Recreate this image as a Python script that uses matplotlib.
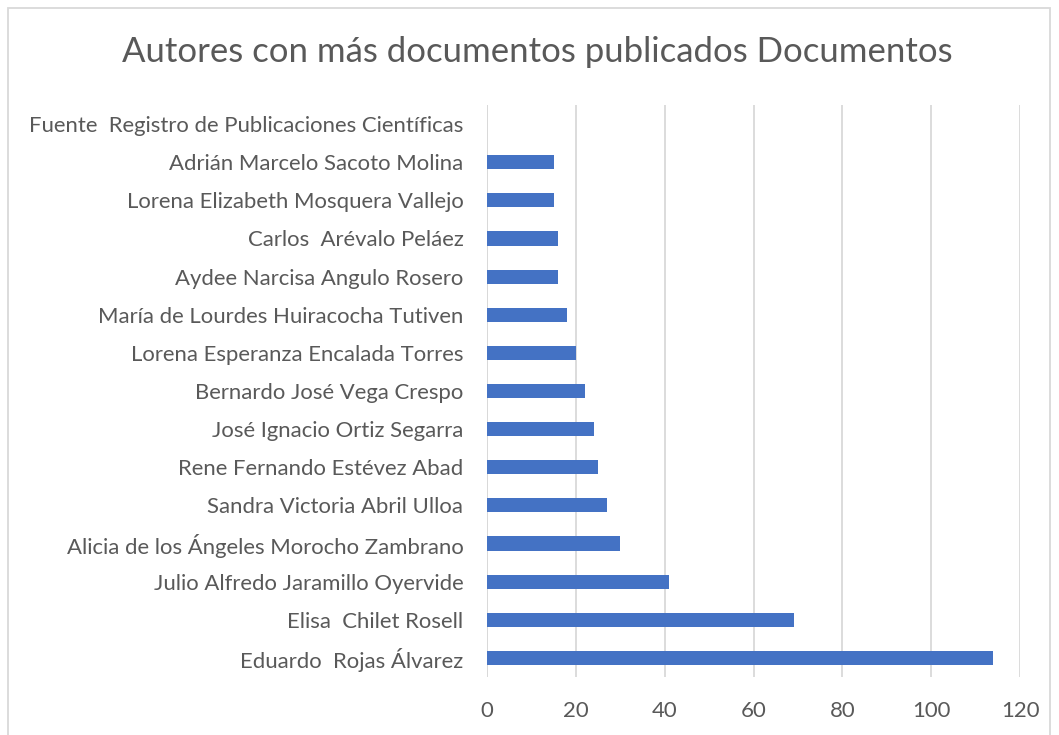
import matplotlib
matplotlib.use('Agg')
import matplotlib.pyplot as plt
from matplotlib.patches import Rectangle

plt.rcParams['font.family'] = ['Lato', 'DejaVu Sans']

autores = ['Eduardo  Rojas Álvarez', 'Elisa  Chilet Rosell', 'Julio Alfredo Jaramillo Oyervide',
           'Alicia de los Ángeles Morocho Zambrano', 'Sandra Victoria Abril Ulloa',
           'Rene Fernando Estévez Abad', 'José Ignacio Ortiz Segarra', 'Bernardo José Vega Crespo',
           'Lorena Esperanza Encalada Torres', 'María de Lourdes Huiracocha Tutiven',
           'Aydee Narcisa Angulo Rosero', 'Carlos  Arévalo Peláez',
           'Lorena Elizabeth Mosquera Vallejo', 'Adrián Marcelo Sacoto Molina',
           'Fuente  Registro de Publicaciones Científicas']
documentos = [114, 69, 41, 30, 27, 25, 24, 22, 20, 18, 16, 16, 15, 15, 0]
ticks = [0, 20, 40, 60, 80, 100, 120]

gris = '#595959'
fig = plt.figure(figsize=(10.59, 7.35), dpi=100)
ax = fig.add_axes([0.4599, 0.0789, 0.5033, 0.7782])

pos = list(range(len(autores)))
ax.barh(pos, documentos, height=0.37, color='#4472c4', zorder=3)
ax.set_ylim(-0.5, len(autores) - 0.5)
ax.set_xlim(0, 120)
ax.set_xticks(ticks)
ax.set_yticks(pos)
ax.set_yticklabels(autores)
ax.grid(axis='x', color='#d9d9d9', linewidth=1.3, zorder=0)
ax.axvline(0, color='#d9d9d9', linewidth=1.3, zorder=1)
for s in ax.spines.values():
    s.set_visible(False)
ax.tick_params(axis='both', length=0, labelsize=15.9, labelcolor=gris)
ax.tick_params(axis='y', pad=17)
ax.tick_params(axis='x', pad=17)

fig.text(0.507, 0.929, 'Autores con más documentos publicados Documentos',
         ha='center', va='center', fontsize=25, color=gris)

fig.patches.append(Rectangle((8 / 1059, -0.01), 1042 / 1059, 1 - 8 / 735 + 0.01,
                             transform=fig.transFigure, fill=False,
                             edgecolor='#d9d9d9', linewidth=1.3))

fig.savefig('out.png', dpi=100)
